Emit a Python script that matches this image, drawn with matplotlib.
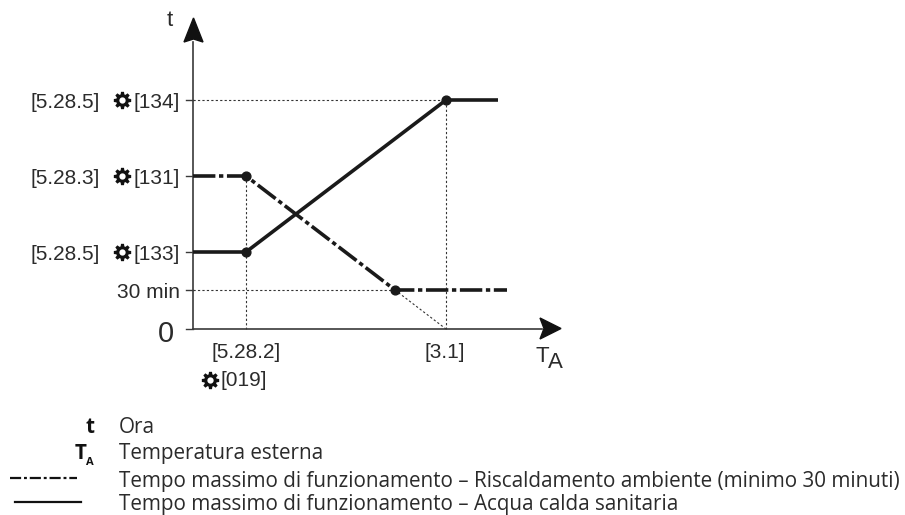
import numpy as np
import matplotlib
matplotlib.use("Agg")
import matplotlib.pyplot as plt
from matplotlib.patches import Polygon
from matplotlib.path import Path

W, H = 905, 515
OX, OY = 193, 329   # pixel position of the origin

# values (axis units: px from origin)
x_low, x_high, x_cross = 53, 253, 202
x_end_solid, x_end_dash = 305, 314
t_133, t_131, t_134, t_30 = 77, 153, 229, 39

dhw_x = [0, x_low, x_high, x_end_solid]
dhw_y = [t_133, t_133, t_134, t_134]
space_x = [0, x_low, x_cross, x_end_dash]
space_y = [t_131, t_131, t_30, t_30]

ylabels_left = ["[5.28.5]", "[5.28.3]", "[5.28.5]"]
ylabels_right = ["[134]", "[131]", "[133]"]
ylevels = [t_134, t_131, t_133]
legend_text = ["Ora", "Temperatura esterna",
               "Tempo massimo di funzionamento – Riscaldamento ambiente (minimo 30 minuti)",
               "Tempo massimo di funzionamento – Acqua calda sanitaria"]

fig = plt.figure(figsize=(W / 100, H / 100), dpi=100)
ax = fig.add_axes([0, 0, 1, 1])
ax.set_xlim(-OX, W - OX)
ax.set_ylim(-(H - OY), OY)
ax.axis("off")

LAB = "Liberation Sans"
LEG = "Open Sans"
TXT = "#2b2b2b"
AX = "#3a3a3a"

def py(p):
    return OY - p
def px(p):
    return p - OX

def gear_path(teeth=8):
    verts, codes = [], []
    step = 2 * np.pi / teeth
    for i in range(teeth):
        a = i * step
        for da, r in [(-0.30, 0.72), (-0.17, 1.0), (0.17, 1.0), (0.30, 0.72)]:
            t = a + da * step / 0.785
            verts.append((r * np.cos(t), r * np.sin(t)))
            codes.append(Path.LINETO)
    codes[0] = Path.MOVETO
    verts.append(verts[0]); codes.append(Path.CLOSEPOLY)
    th = np.linspace(0, -2 * np.pi, 17)
    ring = [(0.36 * np.cos(t), 0.36 * np.sin(t)) for t in th]
    verts += ring
    codes += [Path.MOVETO] + [Path.LINETO] * 15 + [Path.CLOSEPOLY]
    return Path(verts, codes)

GEAR = gear_path()
def gear(x, y):
    ax.plot([x], [y], marker=GEAR, ms=12.5, color="#111111", mew=0, ls="none", zorder=3)

# guides
guide = dict(color="#333333", lw=0.8, dashes=(2, 2), zorder=1)
ax.plot([0, x_high, x_high], [t_134, t_134, 0], **guide)
ax.plot([x_low, x_low], [t_131, 0], **guide)
ax.plot([0, x_cross], [t_30, t_30], **guide)
ax.plot([x_cross, x_high], [t_30, 0], **guide)

# axes
ax.plot([0, 0], [0, py(42)], color=AX, lw=1.2, zorder=2)
ax.plot([0, px(542)], [0, 0], color=AX, lw=1.2, zorder=2)
for v in ylevels + [t_30, 0]:
    ax.plot([-7, 0], [v, v], color=AX, lw=1.0, zorder=2)
ax.add_patch(Polygon([(0.5, py(18)), (10, py(42)), (0.5, py(39)), (-9, py(42))], color="#111111", zorder=3))
ax.add_patch(Polygon([(px(561), 0.5), (px(540), 11), (px(544), 0.5), (px(540), -10)], color="#111111", zorder=3))

# series
ax.plot(dhw_x, dhw_y, color="#1a1a1a", lw=2.6, zorder=4, solid_capstyle="butt")
ax.plot(space_x, space_y, color="#1a1a1a", lw=2.6, zorder=4, dashes=(6.2, 1.0, 1.2, 1.0))
ax.scatter([x_low, x_high], [t_133, t_134], s=40, color="#1a1a1a", zorder=5)
ax.scatter([x_low, x_cross], [t_131, t_30], s=40, color="#1a1a1a", zorder=5)

# labels
fs = 15
for lvl, l, r in zip(ylevels, ylabels_left, ylabels_right):
    ax.text(px(100), lvl, l, family=LAB, fontsize=fs, color=TXT, ha="right", va="center_baseline")
    ax.text(px(180), lvl, r, family=LAB, fontsize=fs, color=TXT, ha="right", va="center_baseline")
    gear(px(122), lvl)
ax.text(px(180), t_30, "30 min", family=LAB, fontsize=fs, color=TXT, ha="right", va="center_baseline")
ax.text(px(174), -1.5, "0", family=LAB, fontsize=21, color=TXT, ha="right", va="center_baseline")
ax.text(px(169.5), py(21), "t", family=LAB, fontsize=fs + 1, color=TXT, ha="center", va="center")
ax.text(x_low, py(352), "[5.28.2]", family=LAB, fontsize=fs, color=TXT, ha="center", va="center")
ax.text(x_high - 1, py(352), "[3.1]", family=LAB, fontsize=fs, color=TXT, ha="center", va="center")
gear(px(210), py(380))
ax.text(px(220), py(380), "[019]", family=LAB, fontsize=fs, color=TXT, ha="left", va="center")
ax.text(px(535), py(357), "T", family=LAB, fontsize=fs + 1, color=TXT, ha="left", va="center")
ax.text(px(548), py(362), "A", family=LAB, fontsize=fs + 1, color=TXT, ha="left", va="center")

# key
lf = 14.9
ybase = [433, 459, 487, 510]
for y, s in zip(ybase, legend_text):
    ax.text(px(119), py(y), s, family=LEG, fontsize=lf, color=TXT, ha="left", va="baseline")
ax.text(px(94), py(433), "t", family=LEG, fontsize=lf, color="#111111", ha="right", va="baseline", fontweight="bold")
ax.text(px(86), py(459), "T", family=LEG, fontsize=lf, color="#111111", ha="right", va="baseline", fontweight="bold")
ax.text(px(94), py(465), "A", family=LEG, fontsize=8, color="#111111", ha="right", va="baseline", fontweight="bold")
ax.plot([px(10), px(77)], [py(478), py(478)], color="#111111", lw=1.6, dashes=(5, 1.3, 1.3, 1.3))
ax.plot([px(15), px(81)], [py(502), py(502)], color="#111111", lw=1.6)

fig.savefig("out.png", dpi=100, facecolor="white")
